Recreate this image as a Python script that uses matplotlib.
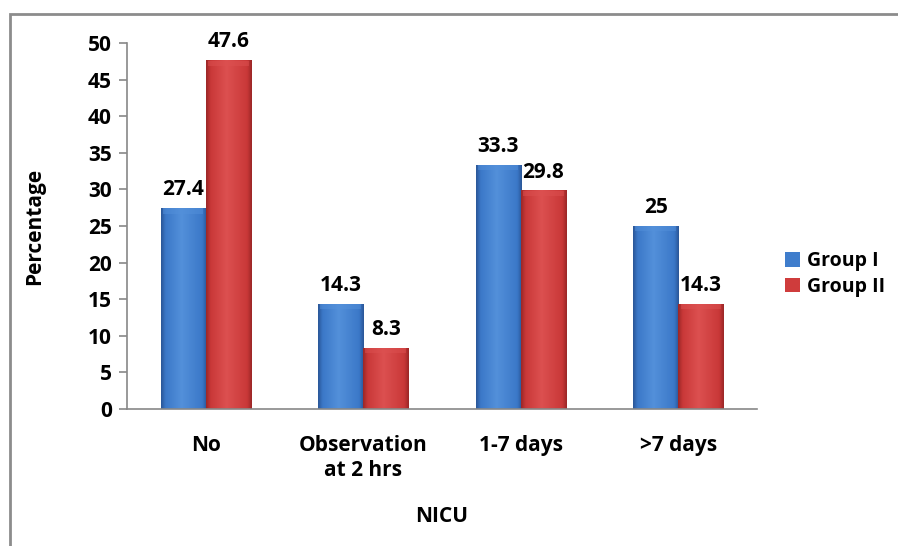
import numpy as np
import matplotlib
matplotlib.use("Agg")
import matplotlib.pyplot as plt
from matplotlib.colors import LinearSegmentedColormap
from matplotlib.patches import Rectangle

categories = ["No", "Observation\nat 2 hrs", "1-7 days", ">7 days"]
group1 = [27.4, 14.3, 33.3, 25]
group2 = [47.6, 8.3, 29.8, 14.3]
series_names = ["Group I", "Group II"]

plt.rcParams["font.family"] = ["Open Sans", "DejaVu Sans"]
plt.rcParams["font.weight"] = "bold"
FS = 15

fig = plt.figure(figsize=(8.98, 5.46), dpi=100)
ax = fig.add_axes([0.1414, 0.2509, 0.7016, 0.6703])

# outer frame line (only top and left are visible)
fig.patches.append(Rectangle((10 / 898, -0.1), 1.2, 0.1 + (1 - 14 / 546),
                             transform=fig.transFigure, fill=False,
                             edgecolor="#8c8c8c", linewidth=2, zorder=0))


def shade(bars, dark, base, light):
    cmap = LinearSegmentedColormap.from_list(
        "shade", [(0, dark), (0.1, base), (0.45, light), (0.9, base), (1, dark)])
    grad = np.linspace(0, 1, 256).reshape(1, -1)
    for b in bars:
        x, w, h = b.get_x(), b.get_width(), b.get_height()
        ax.imshow(grad, cmap=cmap, extent=[x, x + w, 0, h], aspect="auto",
                  zorder=2, interpolation="bicubic")
        # lighter bevel along the top edge
        top = min(0.7, h * 0.3)
        ax.add_patch(Rectangle((x + w * 0.05, h - top), w * 0.9, top,
                               facecolor=light, edgecolor="none", alpha=0.5, zorder=3))


x = np.arange(len(categories))
width = 0.286
b1 = ax.bar(x - width / 2, group1, width, color="#3f7dcc", label=series_names[0], zorder=1)
b2 = ax.bar(x + width / 2, group2, width, color="#cf3c3c", label=series_names[1], zorder=1)
shade(b1, "#2a5596", "#3b78c8", "#5390da")
shade(b2, "#992626", "#c93838", "#dc5050")

for bars, vals in [(b1, group1), (b2, group2)]:
    for b, v in zip(bars, vals):
        ax.annotate(f"{v:g}", (b.get_x() + b.get_width() / 2, v),
                    xytext=(0, 6), textcoords="offset points",
                    ha="center", va="bottom", fontsize=FS, fontweight="bold")

ax.set_xlim(-0.5, len(categories) - 0.5)
ax.set_ylim(0, 50)
ax.set_yticks(range(0, 51, 5))
ax.set_xticks(x)
ax.set_xticklabels(categories, fontsize=FS, fontweight="bold", linespacing=1.2)
ax.tick_params(axis="y", labelsize=FS, length=6, color="#888888", width=1.2, pad=5)
ax.tick_params(axis="x", length=0, pad=19)
for lbl in ax.get_yticklabels():
    lbl.set_fontweight("bold")

for side in ["top", "right"]:
    ax.spines[side].set_visible(False)
for side in ["left", "bottom"]:
    ax.spines[side].set_color("#888888")
    ax.spines[side].set_linewidth(1.2)

ax.set_ylabel("Percentage", fontsize=FS, fontweight="bold", labelpad=31)
ax.set_xlabel("NICU", fontsize=FS, fontweight="bold", labelpad=18)

fig.legend(handles=[b1, b2], labels=series_names, loc="center left",
           bbox_to_anchor=(0.855, 0.498), frameon=False, fontsize=14,
           handlelength=0.75, handleheight=0.75, handletextpad=0.35, labelspacing=0.3)

fig.savefig("out.png", dpi=100)
